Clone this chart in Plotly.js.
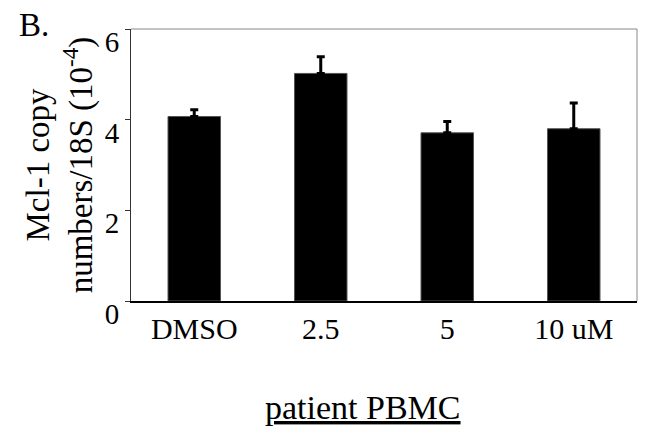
<!DOCTYPE html>
<html>
<head>
<meta charset="utf-8">
<script src="https://cdn.plot.ly/plotly-3.0.1.min.js"></script>
<style>html,body{margin:0;padding:0;background:#fff;}#chart{width:660px;height:433px;}</style>
</head>
<body>
<div id="chart"></div>
<script>
// Data
const categories = ["DMSO", "2.5", "5", "10 uM"];
const values = [4.07, 5.02, 3.71, 3.80];
const errorsUp = [0.15, 0.37, 0.25, 0.57];
const errorsDown = [0, 0, 0, 0];
const yTickVals = [0, 2, 4, 6];
const yTickText = ["0", "2", "4", "6"];

const FONT = "Liberation Serif, Times New Roman, Times, serif";

const trace = {
  type: "bar",
  x: categories,
  y: values,
  marker: { color: "#000000", line: { color: "#555555", width: 1 } },
  error_y: {
    type: "data",
    symmetric: false,
    array: errorsUp,
    arrayminus: errorsDown,
    color: "#000000",
    thickness: 3,
    width: 4
  },
  hoverinfo: "x+y"
};

const layout = {
  width: 660,
  height: 433,
  margin: { l: 131, r: 23, t: 29, b: 132 },
  paper_bgcolor: "#ffffff",
  plot_bgcolor: "#ffffff",
  showlegend: false,
  bargap: 0.585,
  font: { family: FONT, color: "#000000", size: 30 },
  xaxis: {
    type: "category",
    range: [-0.5, 3.5],
    showline: true,
    linecolor: "#000000",
    linewidth: 2,
    ticks: "",
    showgrid: false,
    zeroline: false,
    tickfont: { family: FONT, size: 30, color: "#000000" },
    ticklabelstandoff: 0,
    fixedrange: true
  },
  yaxis: {
    range: [0, 6],
    tickvals: yTickVals,
    ticktext: yTickText,
    showline: true,
    linecolor: "#333333",
    linewidth: 1,
    ticks: "outside",
    ticklen: 5,
    tickcolor: "#333333",
    showgrid: false,
    zeroline: false,
    tickfont: { family: FONT, size: 29, color: "#000000" },
    ticklabelshift: 13,
    ticklabelstandoff: 0,
    title: {
      text: "Mcl-1 copy<br>numbers/18S (10<sup>-4</sup>)",
      font: { family: FONT, size: 33, color: "#000000" },
      standoff: 2
    },
    fixedrange: true
  },
  shapes: [
    { type: "line", xref: "paper", yref: "paper", x0: 0, x1: 1, y0: 1, y1: 1, line: { color: "#888888", width: 1 } },
    { type: "line", xref: "paper", yref: "paper", x0: 1, x1: 1, y0: 0, y1: 1, line: { color: "#888888", width: 1 } }
  ],
  annotations: [
    {
      text: "B.",
      xref: "paper", yref: "paper",
      x: -0.225, y: 1.09,
      xanchor: "left", yanchor: "top",
      showarrow: false,
      font: { family: FONT, size: 33, color: "#000000" }
    },
    {
      text: "<u>patient PBMC</u>",
      xref: "paper", yref: "paper",
      x: 0.458, y: -0.393,
      xanchor: "center", yanchor: "middle",
      showarrow: false,
      font: { family: FONT, size: 34, color: "#000000" }
    }
  ]
};

Plotly.newPlot("chart", [trace], layout, { displayModeBar: false });
</script>
</body>
</html>
